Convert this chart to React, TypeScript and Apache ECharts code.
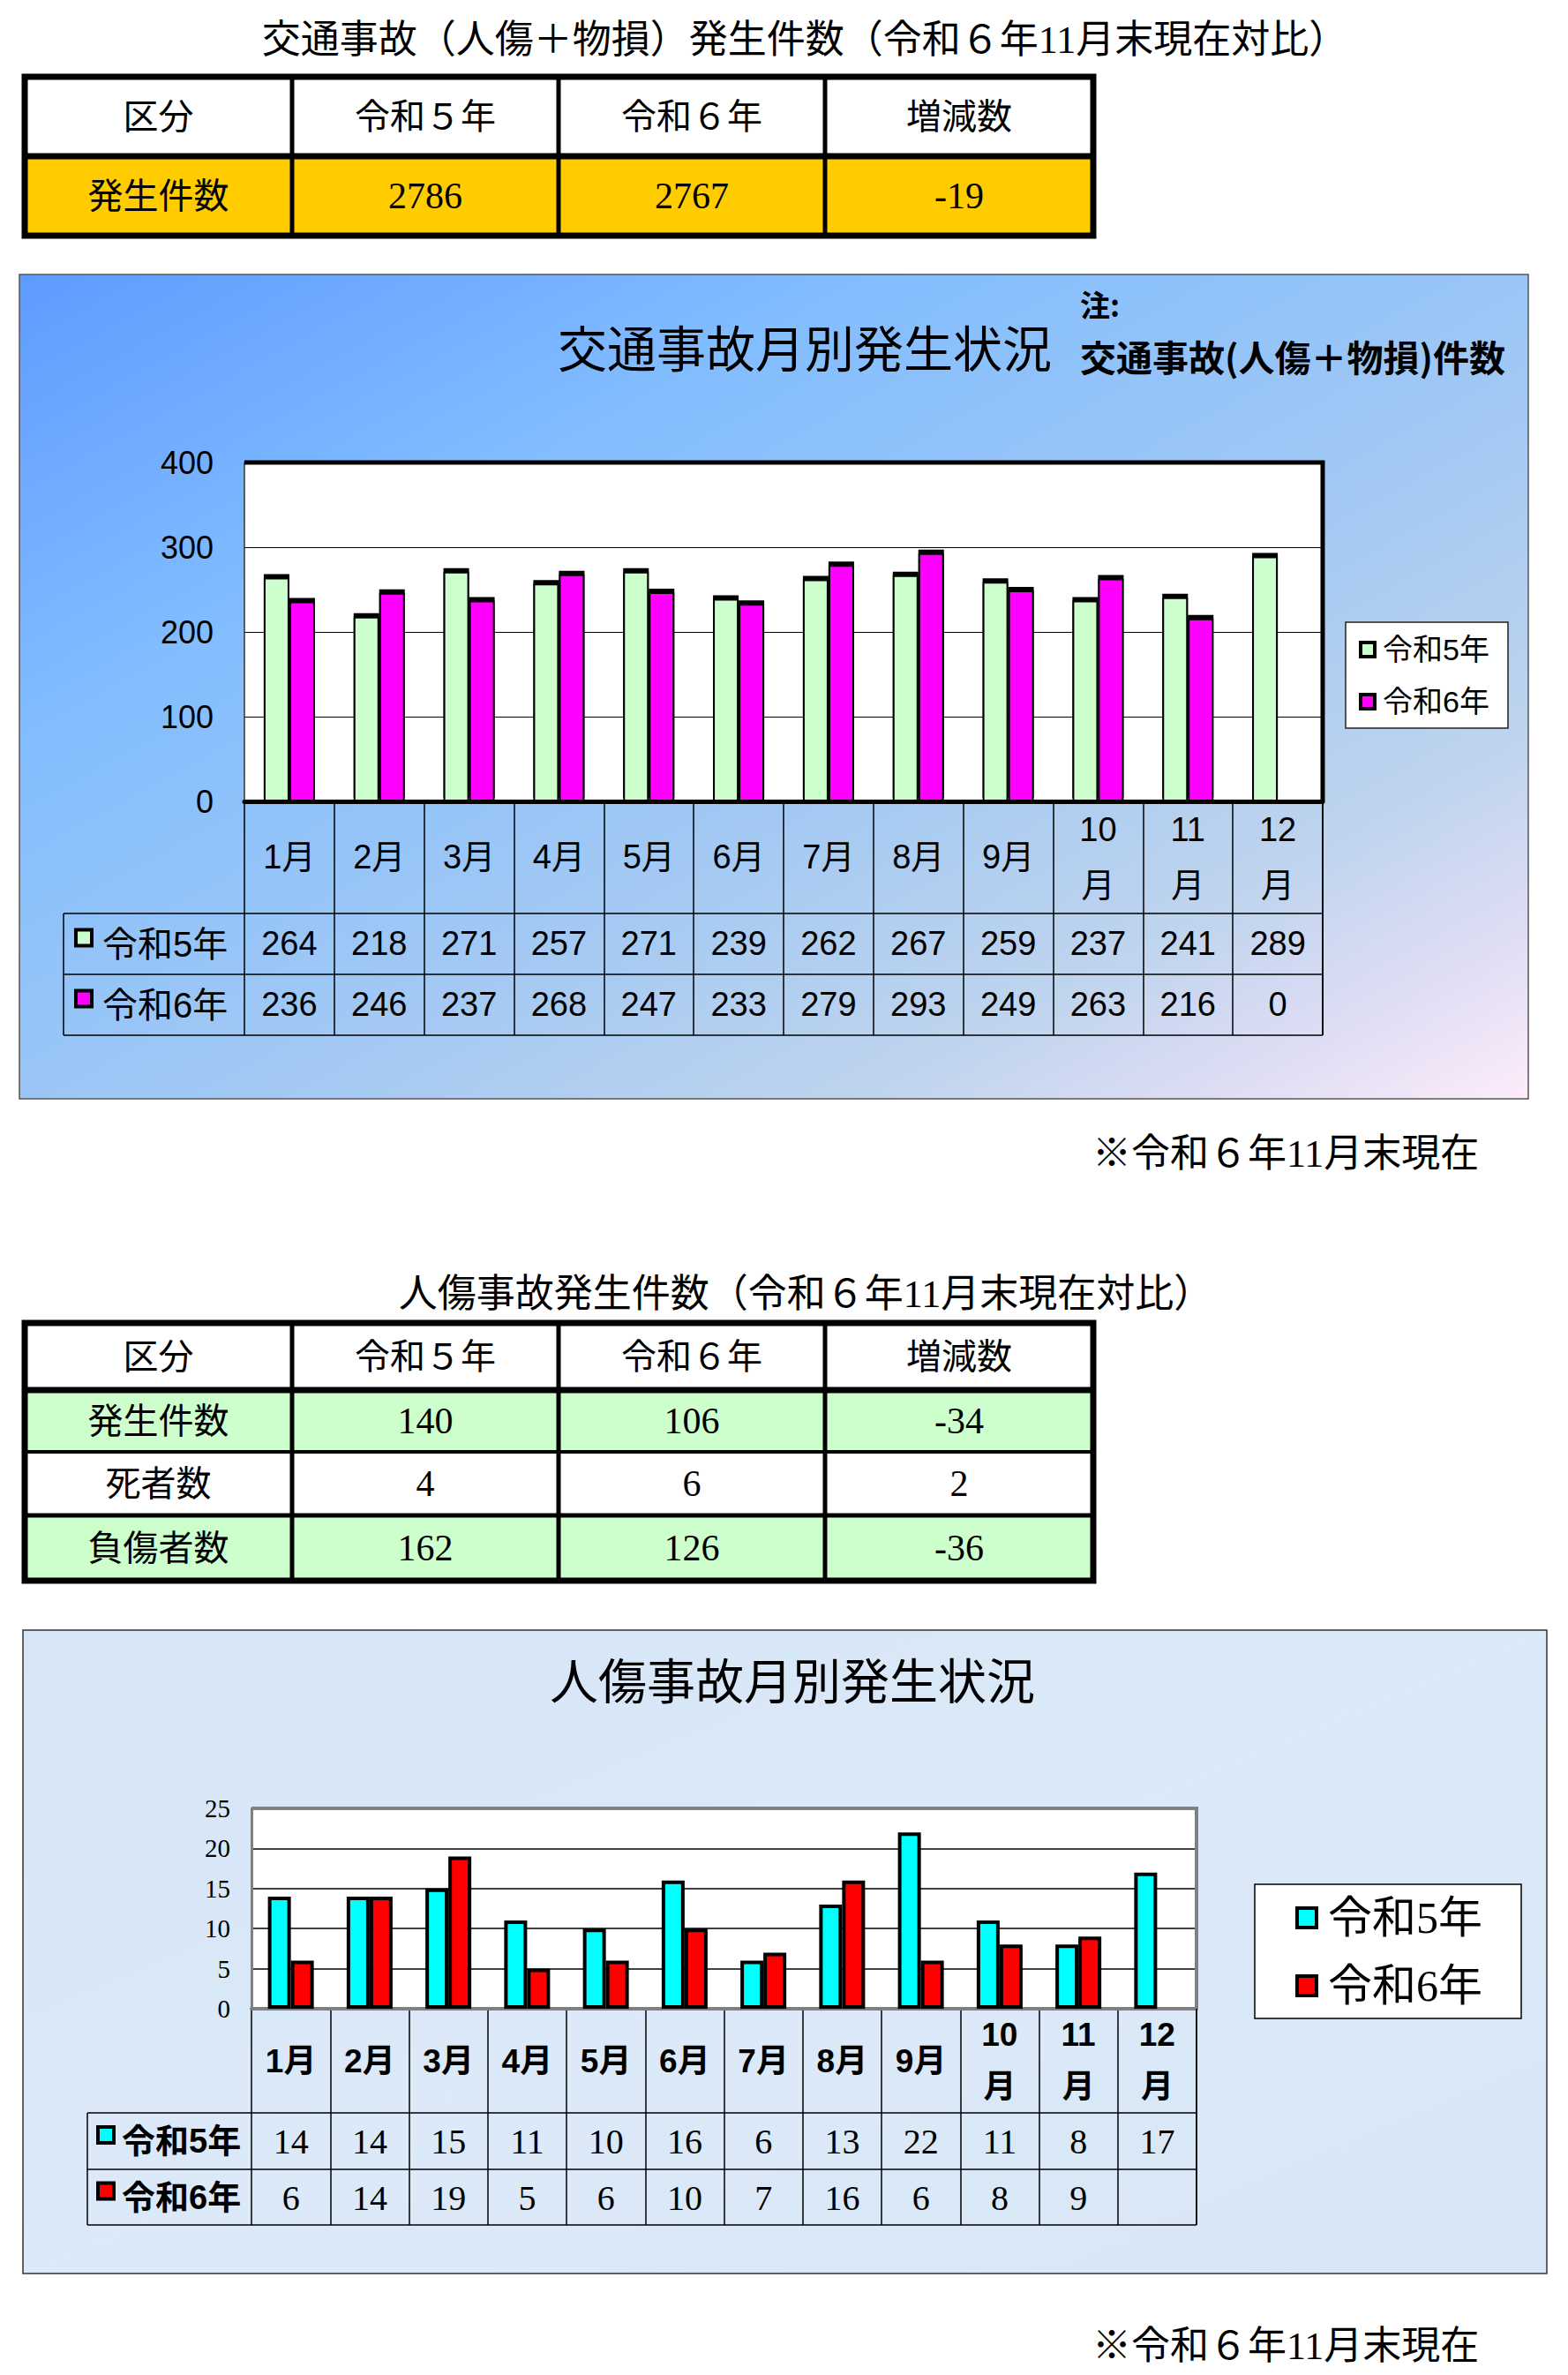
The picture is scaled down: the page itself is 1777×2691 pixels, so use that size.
import React, { useEffect, useRef } from "react";
import * as echarts from "echarts";

// ---------------- data ----------------
const months = ["1月", "2月", "3月", "4月", "5月", "6月", "7月", "8月", "9月", "10月", "11月", "12月"];
const seriesNames = ["令和5年", "令和6年"];
const totalR5 = [264, 218, 271, 257, 271, 239, 262, 267, 259, 237, 241, 289];
const totalR6 = [236, 246, 237, 268, 247, 233, 279, 293, 249, 263, 216, 0];
const injuryR5 = [14, 14, 15, 11, 10, 16, 6, 13, 22, 11, 8, 17];
const injuryR6: (number | null)[] = [6, 14, 19, 5, 6, 10, 7, 16, 6, 8, 9, null];
const totalAxis = { min: 0, max: 400, interval: 100 };
const injuryAxis = { min: 0, max: 25, interval: 5 };

const table1Header = ["区分", "令和５年", "令和６年", "増減数"];
const table1Rows = [["発生件数", "2786", "2767", "-19"]];
const table2Rows = [
  ["発生件数", "140", "106", "-34"],
  ["死者数", "4", "6", "2"],
  ["負傷者数", "162", "126", "-36"],
];
const title1 = "交通事故（人傷＋物損）発生件数（令和６年11月末現在対比）";
const title2 = "人傷事故発生件数（令和６年11月末現在対比）";
const chart1Title = "交通事故月別発生状況";
const chart2Title = "人傷事故月別発生状況";
const noteLabel = "注:";
const noteText = "交通事故(人傷＋物損)件数";
const footnote = "※令和６年11月末現在";

// ---------------- styles ----------------
const C_GREEN = "#CCFFCC";
const C_MAGENTA = "#FF00FF";
const C_CYAN = "#00FFFF";
const C_RED = "#FF0000";
const C_YELLOW = "#FFCC00";
const SANS = "'Liberation Sans','Noto Sans CJK JP'";
const SERIF = "'Liberation Serif','Noto Sans CJK JP'";
const CJK = "'Noto Sans CJK JP'";

const W = 1777;
const H = 2691;

const P1 = { x: 22, y: 311, w: 1710, h: 934 };
const G1 = { left: 277, top: 524, right: 1499, bottom: 908 };
const T1 = { left: 72, rows: [1035, 1104, 1173] };
const P2 = { x: 26, y: 1847, w: 1727, h: 729 };
const G2 = { left: 285, top: 2049, right: 1356, bottom: 2276 };
const T2 = { left: 99, rows: [2394, 2458, 2521] };

const tableCols = [28, 331, 633, 935, 1239];

function text(x: number, y: number, t: string, font: string, align = "center", fill = "#000", z = 20) {
  return {
    type: "text",
    x,
    y,
    z,
    silent: true,
    style: { text: t, font, fill, align, verticalAlign: "middle" },
  };
}
function line(x1: number, y1: number, x2: number, y2: number, w: number, stroke = "#000", z = 20) {
  return { type: "line", z, silent: true, shape: { x1, y1, x2, y2 }, style: { stroke, lineWidth: w } };
}
function rect(x: number, y: number, w: number, h: number, style: any, z = 20) {
  return { type: "rect", z, silent: true, shape: { x, y, width: w, height: h }, style };
}

function buildTable(rowsY: number[], header: string[], rows: string[][], fills: string[], hWidths: number[]) {
  const els: any[] = [];
  const all = [header, ...rows];
  const allFills = ["#FFFFFF", ...fills];
  const x0 = tableCols[0];
  const x1 = tableCols[tableCols.length - 1];
  all.forEach((r, i) => {
    els.push(rect(x0, rowsY[i], x1 - x0, rowsY[i + 1] - rowsY[i], { fill: allFills[i] }, 15));
    r.forEach((cell, j) => {
      const cx = (tableCols[j] + tableCols[j + 1]) / 2;
      const cy = (rowsY[i] + rowsY[i + 1]) / 2;
      const isNum = /^[-0-9]+$/.test(cell);
      els.push(text(cx, cy, cell, isNum ? `42px ${SERIF}` : `40px ${SERIF}`));
    });
  });
  for (let j = 1; j < tableCols.length - 1; j++) {
    els.push(line(tableCols[j], rowsY[0], tableCols[j], rowsY[rowsY.length - 1], 5));
  }
  for (let i = 1; i < rowsY.length - 1; i++) {
    els.push(line(x0, rowsY[i], x1, rowsY[i], hWidths[i - 1]));
  }
  els.push(rect(x0, rowsY[0], x1 - x0, rowsY[rowsY.length - 1] - rowsY[0], { fill: null, stroke: "#000", lineWidth: 7 }, 21));
  return els;
}

function labelFormatter(a: (number | null)[], b: (number | null)[]) {
  return (value: string, idx: number) => {
    const num = value.replace("月", "");
    const head = num.length > 1 ? `{m2|${num}}\n{m2|月}` : `{m|${value}}`;
    const va = a[idx] == null ? " " : String(a[idx]);
    const vb = b[idx] == null ? " " : String(b[idx]);
    return `${head}\n{v|${va}}\n{v|${vb}}`;
  };
}

// bars of the first chart carry a heavy black top edge
function cappedBars(values: number[]) {
  return values.map((v) =>
    v === 0 ? { value: v, itemStyle: { shadowColor: "rgba(0,0,0,0)", shadowOffsetY: 0 } } : v
  );
}

export default function App() {
  const ref = useRef<HTMLDivElement>(null);

  useEffect(() => {
    document.body.style.margin = "0";
    if (!ref.current) return;
    const chart = echarts.init(ref.current, null, { renderer: "svg" });

    const graphics: any[] = [];
    graphics.push(
      rect(P1.x, P1.y, P1.w, P1.h, {
        fill: new echarts.graphic.LinearGradient(0, 0, 1, 1, [
          { offset: 0, color: "#5e9bff" },
          { offset: 0.28, color: "#82bdff" },
          { offset: 0.58, color: "#a3c9f3" },
          { offset: 0.78, color: "#bfd4ee" },
          { offset: 0.9, color: "#e0def4" },
          { offset: 1, color: "#fdecfa" },
        ]),
        stroke: "#555",
        lineWidth: 1.5,
      }, -10)
    );
    graphics.push(
      rect(P2.x, P2.y, P2.w, P2.h, {
        fill: new echarts.graphic.LinearGradient(0, 0, 1, 1, [
          { offset: 0, color: "#d6e6f7" },
          { offset: 0.5, color: "#dbe9f8" },
          { offset: 1, color: "#d8e7f7" },
        ]),
        stroke: "#333",
        lineWidth: 1.5,
      }, -10)
    );

    // titles & footnotes
    graphics.push(text(912, 45, title1, `44px ${SERIF}`));
    graphics.push(text(913, 1466, title2, `44px ${SERIF}`));
    graphics.push(text(1238, 1307, footnote, `44px ${SERIF}`, "left"));
    graphics.push(text(1238, 2658, footnote, `44px ${SERIF}`, "left"));
    graphics.push(text(912, 391, chart1Title, `56px ${CJK}`));
    graphics.push(text(898, 1901, chart2Title, `55px ${CJK}`));
    graphics.push(text(1224, 344, noteLabel, `bold 34px ${CJK}`, "left"));
    graphics.push(text(1224, 403, noteText, `bold 41px ${CJK}`, "left"));

    // tables
    graphics.push(...buildTable([87, 177, 267], table1Header, table1Rows, [C_YELLOW], [7]));
    graphics.push(...buildTable([1499, 1575, 1645, 1717, 1791], table1Header, table2Rows, [C_GREEN, "#FFFFFF", C_GREEN], [7, 4, 5]));

    // plot frames
    graphics.push({
      type: "polyline",
      z: 20,
      silent: true,
      shape: { points: [[G1.left, G1.top], [G1.right, G1.top], [G1.right, G1.bottom]] },
      style: { stroke: "#000", lineWidth: 5, fill: null },
    });
    graphics.push({
      type: "polyline",
      z: 20,
      silent: true,
      shape: { points: [[G2.left, G2.top], [G2.right, G2.top], [G2.right, G2.bottom]] },
      style: { stroke: "#808080", lineWidth: 4, fill: null },
    });

    // data table rules
    T1.rows.forEach((y) => graphics.push(line(T1.left, y, G1.right, y, 1.5)));
    graphics.push(line(T1.left, T1.rows[0], T1.left, T1.rows[2], 1.5));
    graphics.push(line(G1.right, G1.bottom, G1.right, T1.rows[2], 1.5));
    T2.rows.forEach((y) => graphics.push(line(T2.left, y, G2.right, y, 1.5)));
    graphics.push(line(T2.left, T2.rows[0], T2.left, T2.rows[2], 1.5));
    graphics.push(line(G2.right, G2.bottom, G2.right, T2.rows[2], 1.5));

    // row headers with keys
    const keys1 = [C_GREEN, C_MAGENTA];
    seriesNames.forEach((n, i) => {
      const cy = (T1.rows[i] + T1.rows[i + 1]) / 2;
      graphics.push(rect(86, cy - 16, 18, 18, { fill: keys1[i], stroke: "#000", lineWidth: 4 }));
      graphics.push(text(116, cy, n, `40px ${SANS}`, "left"));
    });
    const keys2 = [C_CYAN, C_RED];
    seriesNames.forEach((n, i) => {
      const cy = (T2.rows[i] + T2.rows[i + 1]) / 2;
      graphics.push(rect(111, cy - 16, 18, 18, { fill: keys2[i], stroke: "#000", lineWidth: 4 }));
      graphics.push(text(138, cy, n, `bold 38px ${SANS}`, "left"));
    });

    // legends
    graphics.push(rect(1525, 705, 184, 120, { fill: "#fff", stroke: "#222", lineWidth: 1.5 }));
    [736, 795].forEach((cy, i) => {
      graphics.push(rect(1542, cy - 8, 16, 16, { fill: keys1[i], stroke: "#000", lineWidth: 4 }));
      graphics.push(text(1567, cy, seriesNames[i], `34px ${SANS}`, "left"));
    });
    graphics.push(rect(1422, 2135, 302, 152, { fill: "#fff", stroke: "#000", lineWidth: 1.5 }));
    [2173, 2250].forEach((cy, i) => {
      graphics.push(rect(1470, cy - 11, 22, 22, { fill: keys2[i], stroke: "#000", lineWidth: 4 }));
      graphics.push(text(1505, cy, seriesNames[i], `50px ${SERIF}`, "left"));
    });

    const capStyle = { shadowColor: "#000", shadowOffsetY: -4, shadowOffsetX: 0, shadowBlur: 0 };

    const option: any = {
      animation: false,
      grid: [
        { left: G1.left, top: G1.top, width: G1.right - G1.left, height: G1.bottom - G1.top, show: true, backgroundColor: "#fff", borderWidth: 0 },
        { left: G1.left, top: G1.bottom, width: G1.right - G1.left, height: T1.rows[2] - G1.bottom, show: false },
        { left: G2.left, top: G2.top, width: G2.right - G2.left, height: G2.bottom - G2.top, show: true, backgroundColor: "#fff", borderWidth: 0 },
        { left: G2.left, top: G2.bottom, width: G2.right - G2.left, height: T2.rows[2] - G2.bottom, show: false },
      ],
      xAxis: [
        {
          type: "category",
          gridIndex: 0,
          data: months,
          axisLine: { lineStyle: { color: "#000", width: 5 } },
          axisTick: { show: false },
          splitLine: { show: false },
          axisLabel: {
            interval: 0,
            margin: 0,
            color: "#000",
            formatter: labelFormatter(totalR5, totalR6),
            rich: {
              m: { fontSize: 38, lineHeight: 126, fontFamily: SANS, color: "#000" },
              m2: { fontSize: 38, lineHeight: 63, fontFamily: SANS, color: "#000" },
              v: { fontSize: 38, lineHeight: 69, fontFamily: SANS, color: "#000" },
            },
          },
        },
        {
          type: "category",
          gridIndex: 1,
          data: months,
          axisLine: { show: false },
          axisTick: { show: false },
          axisLabel: { show: false },
          splitLine: { show: true, interval: 0, lineStyle: { color: "#000", width: 1.5 } },
        },
        {
          type: "category",
          gridIndex: 2,
          data: months,
          axisLine: { lineStyle: { color: "#808080", width: 4 } },
          axisTick: { show: false },
          splitLine: { show: false },
          axisLabel: {
            interval: 0,
            margin: 0,
            color: "#000",
            formatter: labelFormatter(injuryR5, injuryR6),
            rich: {
              m: { fontSize: 37, fontWeight: "bold", lineHeight: 118, fontFamily: SANS, color: "#000" },
              m2: { fontSize: 37, fontWeight: "bold", lineHeight: 59, fontFamily: SANS, color: "#000" },
              v: { fontSize: 40, lineHeight: 64, fontFamily: SERIF, color: "#000" },
            },
          },
        },
        {
          type: "category",
          gridIndex: 3,
          data: months,
          axisLine: { show: false },
          axisTick: { show: false },
          axisLabel: { show: false },
          splitLine: { show: true, interval: 0, lineStyle: { color: "#000", width: 1.5 } },
        },
      ],
      yAxis: [
        {
          type: "value",
          gridIndex: 0,
          ...totalAxis,
          axisLine: { show: true, lineStyle: { color: "#333", width: 1.5 } },
          axisTick: { show: false },
          axisLabel: { fontSize: 36, color: "#000", margin: 35, fontFamily: SANS },
          splitLine: { lineStyle: { color: "#000", width: 1.2 } },
        },
        { type: "value", gridIndex: 1, show: false, min: 0, max: 1 },
        {
          type: "value",
          gridIndex: 2,
          ...injuryAxis,
          axisLine: { show: true, lineStyle: { color: "#808080", width: 3 } },
          axisTick: { show: false },
          axisLabel: { fontSize: 29, color: "#000", margin: 24, fontFamily: SERIF },
          splitLine: { lineStyle: { color: "#000", width: 1.5 } },
        },
        { type: "value", gridIndex: 3, show: false, min: 0, max: 1 },
      ],
      series: [
        {
          type: "bar",
          name: seriesNames[0],
          xAxisIndex: 0,
          yAxisIndex: 0,
          data: cappedBars(totalR5),
          barWidth: 29,
          barGap: "0%",
          itemStyle: { color: C_GREEN, borderColor: "#000", borderWidth: 2, ...capStyle },
        },
        {
          type: "bar",
          name: seriesNames[1],
          xAxisIndex: 0,
          yAxisIndex: 0,
          data: cappedBars(totalR6),
          barWidth: 29,
          barGap: "0%",
          itemStyle: { color: C_MAGENTA, borderColor: "#000", borderWidth: 2, ...capStyle },
        },
        {
          type: "bar",
          name: seriesNames[0],
          xAxisIndex: 2,
          yAxisIndex: 2,
          data: injuryR5,
          barWidth: 26,
          barGap: "0%",
          itemStyle: { color: C_CYAN, borderColor: "#000", borderWidth: 4 },
        },
        {
          type: "bar",
          name: seriesNames[1],
          xAxisIndex: 2,
          yAxisIndex: 2,
          data: injuryR6,
          barWidth: 26,
          barGap: "0%",
          itemStyle: { color: C_RED, borderColor: "#000", borderWidth: 4 },
        },
      ],
      graphic: { elements: graphics },
    };
    chart.setOption(option);
    return () => chart.dispose();
  }, []);

  return <div ref={ref} style={{ width: W, height: H, background: "#fff" }} />;
}
